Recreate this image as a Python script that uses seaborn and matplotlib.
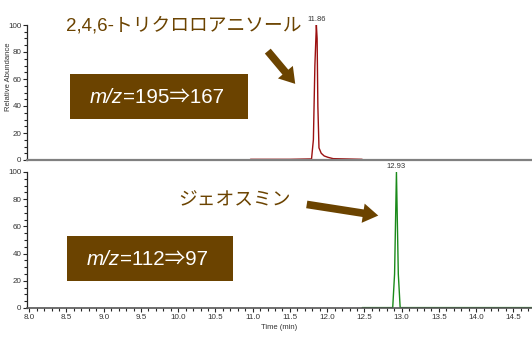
import pandas as pd
import matplotlib
matplotlib.use("Agg")
import matplotlib.pyplot as plt
from matplotlib.patches import FancyArrowPatch, Rectangle
from matplotlib.text import Annotation
from matplotlib.ticker import MultipleLocator, FormatStrFormatter
import seaborn as sns

# ---------------- data ----------------
tca_time = [10.97, 11.50, 11.79, 11.815, 11.835, 11.855, 11.865, 11.875, 11.89, 11.92, 11.96, 12.01, 12.08, 12.47]
tca_int = [0.5, 0.5, 0.8, 15.0, 70.0, 100.0, 90.0, 40.0, 9.0, 5.0, 3.0, 2.0, 1.0, 0.5]
tca_peak = 11.86
tca_label = "2,4,6-トリクロロアニソール"
tca_mz = "=195⇒167"

geo_time = [12.47, 12.88, 12.905, 12.93, 12.955, 12.98, 14.75]
geo_int = [0.3, 0.3, 25.0, 100.0, 25.0, 0.3, 0.3]
geo_peak = 12.93
geo_label = "ジェオスミン"
geo_mz = "=112⇒97"

x_ticks = [8.0, 8.5, 9.0, 9.5, 10.0, 10.5, 11.0, 11.5, 12.0, 12.5, 13.0, 13.5, 14.0, 14.5]

tca = pd.DataFrame({"time": tca_time, "abundance": tca_int})
geo = pd.DataFrame({"time": geo_time, "abundance": geo_int})

# ---------------- style ----------------
sns.set_style("ticks")
plt.rcParams["font.family"] = ["Liberation Sans", "Noto Sans CJK JP", "DejaVu Sans"]

W, H = 532, 337
brown = "#6b4300"
grey_txt = "#333333"
fig = plt.figure(figsize=(W / 100, H / 100), dpi=100)


def fx(px):
    return px / W


def fy(py):
    return 1 - py / H


ax_top = fig.add_axes([fx(27), fy(160), fx(532 - 27), (160 - 25) / H])
ax_bot = fig.add_axes([fx(27), fy(308), fx(532 - 27), (308 - 172) / H])

x_lo, x_hi = 7.97, 14.75

# ---------------- traces ----------------
sns.lineplot(data=tca, x="time", y="abundance", ax=ax_top, color="#9b1010",
             linewidth=1.0, estimator=None, sort=False)
sns.lineplot(data=geo, x="time", y="abundance", ax=ax_bot, color="#1a8a1a",
             linewidth=1.0, estimator=None, sort=False)

for ax in (ax_top, ax_bot):
    ax.set_xlim(x_lo, x_hi)
    ax.set_ylim(0, 100)
    ax.yaxis.set_major_locator(MultipleLocator(20))
    ax.yaxis.set_minor_locator(MultipleLocator(5))
    ax.tick_params(axis="y", which="major", length=3, width=0.8, labelsize=5.8,
                   labelcolor=grey_txt, pad=1)
    ax.tick_params(axis="y", which="minor", length=2, width=0.8)
    for s in ("top", "right"):
        ax.spines[s].set_visible(False)
    ax.spines["left"].set_linewidth(0.9)
    ax.set_xlabel("")
    ax.set_ylabel("")

# top panel: no x ticks, grey baseline
ax_top.set_xticks([])
ax_top.spines["bottom"].set_color("#808080")
ax_top.spines["bottom"].set_linewidth(1.6)
ax_top.set_ylabel("Relative Abundance", fontsize=5.5, color=grey_txt)
ax_top.yaxis.set_label_coords(-15 / (532 - 27), 0.62)
ax_top.text(tca_peak, 101.5, f"{tca_peak:.2f}", ha="center", va="bottom",
            fontsize=5.5, color=grey_txt, clip_on=False)

# bottom panel
ax_bot.set_xticks(x_ticks)
ax_bot.xaxis.set_minor_locator(MultipleLocator(0.1))
ax_bot.xaxis.set_major_formatter(FormatStrFormatter("%.1f"))
ax_bot.tick_params(axis="x", which="major", length=3, width=0.8, labelsize=5.8,
                   labelcolor=grey_txt, pad=1.5)
ax_bot.tick_params(axis="x", which="minor", length=2, width=0.8)
ax_bot.spines["bottom"].set_color("#555555")
ax_bot.spines["bottom"].set_linewidth(1.2)
ax_bot.set_xlabel("Time (min)", fontsize=5.5, labelpad=2, color=grey_txt)
ax_bot.text(geo_peak, 101.5, f"{geo_peak:.2f}", ha="center", va="bottom",
            fontsize=5.5, color=grey_txt, clip_on=False)

# ---------------- annotations ----------------
fig.text(fx(66), fy(26), tca_label, fontsize=13.5, color=brown, ha="left", va="center")
fig.text(fx(178), fy(201), geo_label, fontsize=13.5, color=brown, ha="left", va="center")

for (x0, y0, x1, y1) in [(266, 49, 297, 86), (304, 204, 381, 216)]:
    fig.add_artist(FancyArrowPatch(
        (fx(x0), fy(y0)), (fx(x1), fy(y1)), transform=fig.transFigure,
        arrowstyle="simple,head_length=1.1,head_width=1.4,tail_width=0.55",
        mutation_scale=10, color=brown, lw=0))

for (x0, y0, x1, y1, tx, txt) in [(70, 74, 248, 119, 90, tca_mz),
                                  (67, 236, 233, 281, 87, geo_mz)]:
    fig.add_artist(Rectangle((fx(x0), fy(y1)), fx(x1 - x0), (y1 - y0) / H,
                             transform=fig.transFigure, color=brown, lw=0,
                             zorder=2))
    it = fig.text(fx(tx), fy((y0 + y1) / 2 + 1), "m/z", fontsize=14.8, style="italic",
                  color="white", ha="left", va="center", zorder=5)
    fig.add_artist(Annotation(txt, xy=(1, 0.5), xycoords=it, xytext=(0, 0),
                              textcoords="offset points", fontsize=14.8,
                              color="white", ha="left", va="center",
                              annotation_clip=False, zorder=5))

fig.savefig("out.png", dpi=100)
